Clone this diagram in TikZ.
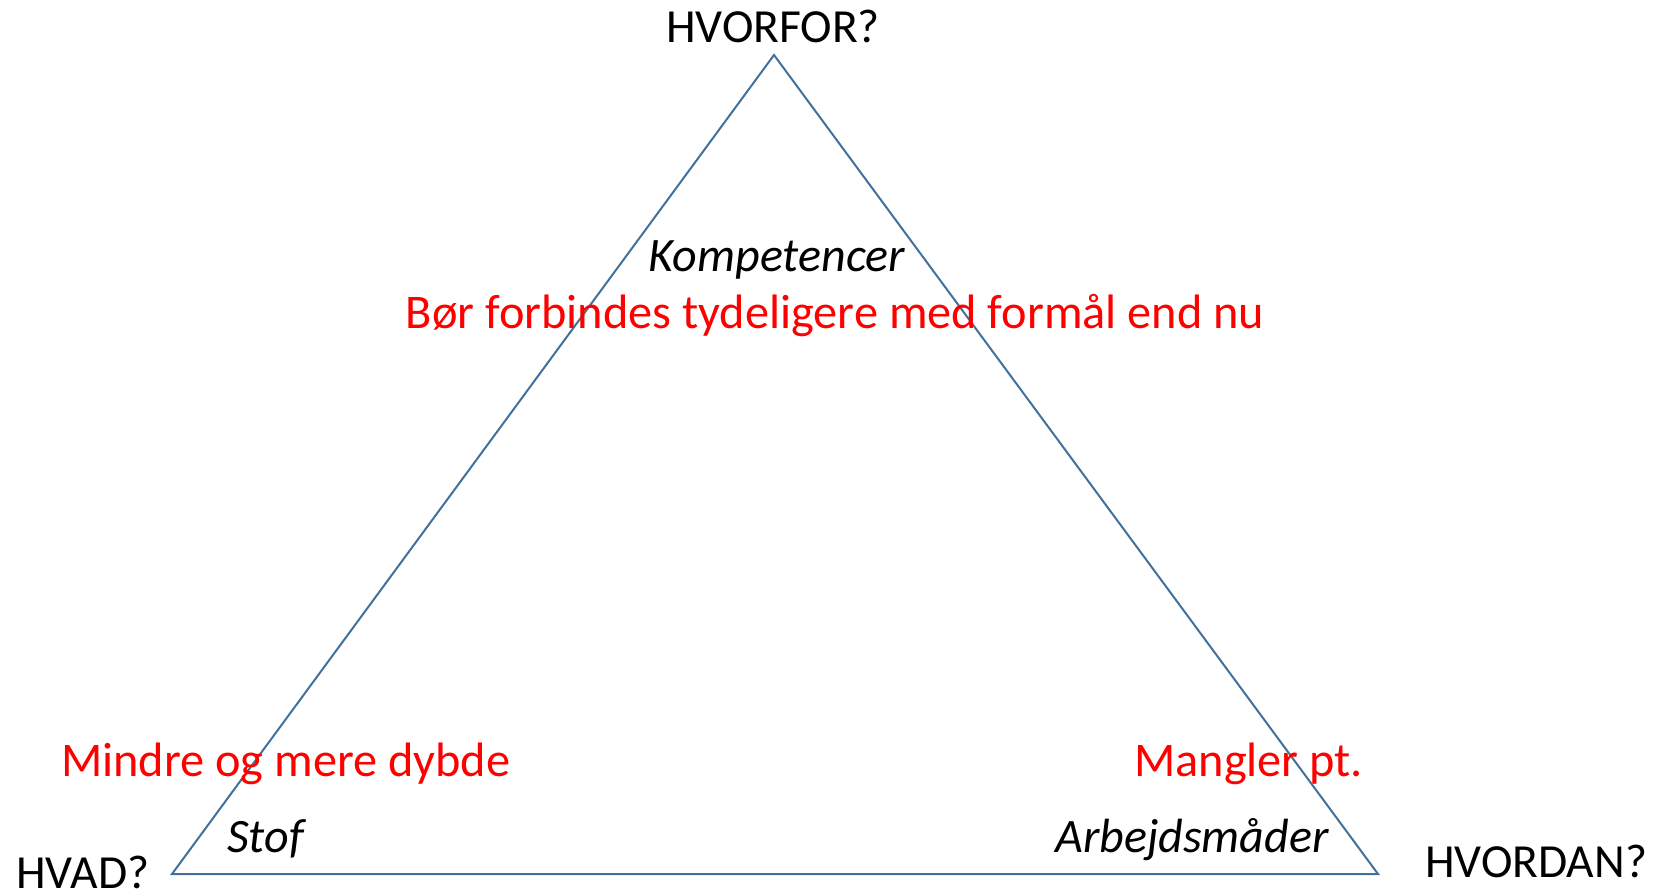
\documentclass[tikz,border=0pt]{standalone}
\usepackage{fontspec}
\setmainfont{Carlito}
\definecolor{triblue}{RGB}{65,113,156}
\definecolor{txtred}{RGB}{255,0,0}
\begin{document}
\begin{tikzpicture}[x=1pt,y=-1pt,
  lbl/.style={inner sep=0pt,font=\fontsize{47.5}{56}\selectfont},
  redlbl/.style={inner sep=0pt,text=txtred,font=\fontsize{48.3}{58}\selectfont},
  itlbl/.style={inner sep=0pt,font=\fontsize{48}{58}\selectfont\itshape}]
\useasboundingbox (0,0) rectangle (1653,895);
\fill[white] (0,0) rectangle (1653,895);
\coordinate (top) at (774,55);
\coordinate (bl) at (172,874);
\coordinate (br) at (1378,874);
\draw[triblue,line width=2pt,line join=miter] (top) -- (bl) -- (br) -- cycle;
\node[lbl,anchor=base] (hvorfor) at (773,42) {HVORFOR?};
\node[itlbl,anchor=base] (komp) at (777,271) {Kompetencer};
\node[redlbl,anchor=base] (bor) at (835,328) {Bør forbindes tydeligere med formål end nu};
\node[redlbl,anchor=base west] (mindre) at (61,776) {Mindre og mere dybde};
\node[redlbl,anchor=base west] (mangler) at (1134,776) {Mangler pt.};
\node[itlbl,anchor=base west] (stof) at (227,852) {Stof};
\node[itlbl,anchor=base west] (arb) at (1055,852) {Arbejdsmåder};
\node[lbl,anchor=base west] (hvad) at (16,888) {HVAD?};
\node[lbl,anchor=base west] (hvordan) at (1425,877) {HVORDAN?};
\end{tikzpicture}
\end{document}
